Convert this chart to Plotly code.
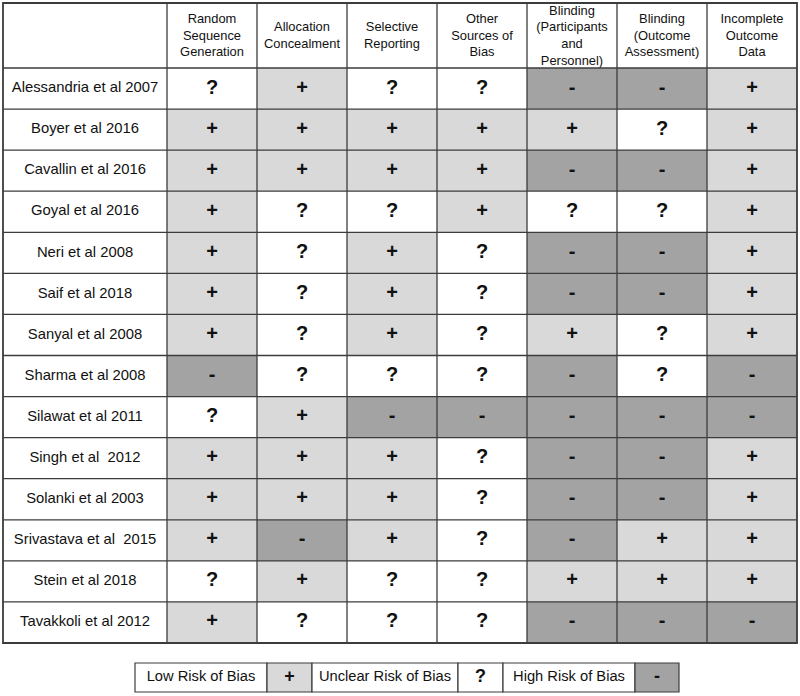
import plotly.graph_objects as go

studies = ["Alessandria et al 2007", "Boyer et al 2016", "Cavallin et al 2016", "Goyal et al 2016",
           "Neri et al 2008", "Saif et al 2018", "Sanyal et al 2008", "Sharma et al 2008",
           "Silawat et al 2011", "Singh et al\u00a0 2012", "Solanki et al 2003",
           "Srivastava et al\u00a0 2015", "Stein et al 2018", "Tavakkoli et al 2012"]
domains = ["Random<br>Sequence<br>Generation", "Allocation<br>Concealment", "Selective<br>Reporting",
           "Other<br>Sources of<br>Bias", "Blinding<br>(Participants<br>and<br>Personnel)",
           "Blinding<br>(Outcome<br>Assessment)", "Incomplete<br>Outcome<br>Data"]
ratings = [
    ["?", "+", "?", "?", "-", "-", "+"],
    ["+", "+", "+", "+", "+", "?", "+"],
    ["+", "+", "+", "+", "-", "-", "+"],
    ["+", "?", "?", "+", "?", "?", "+"],
    ["+", "?", "+", "?", "-", "-", "+"],
    ["+", "?", "+", "?", "-", "-", "+"],
    ["+", "?", "+", "?", "+", "?", "+"],
    ["-", "?", "?", "?", "-", "?", "-"],
    ["?", "+", "-", "-", "-", "-", "-"],
    ["+", "+", "+", "?", "-", "-", "+"],
    ["+", "+", "+", "?", "-", "-", "+"],
    ["+", "-", "+", "?", "-", "+", "+"],
    ["?", "+", "?", "?", "+", "+", "+"],
    ["+", "?", "?", "?", "-", "-", "-"],
]
legend_labels = ["Low Risk of Bias", "Unclear Risk of Bias", "High Risk of Bias"]
legend_symbols = ["+", "?", "-"]

# styling / layout
LOW, UNCLEAR, HIGH = "#d9d9d9", "#ffffff", "#a3a3a3"
LINE = "#3c3c3c"
FONT = "Liberation Sans, Arial, sans-serif"
code = {"+": 0, "?": 1, "-": 2}
colorscale = [[0, LOW], [0.333, LOW], [0.333, UNCLEAR], [0.667, UNCLEAR], [0.667, HIGH], [1, HIGH]]

left, label_right, right = 3.0, 167.0, 797.0
top, header_bottom, bottom = 3.0, 68.0, 643.0
ncol, nrow = len(domains), len(studies)
colw = (right - label_right) / ncol
rowh = (bottom - header_bottom) / nrow
xedges = [label_right + i * colw for i in range(ncol + 1)]
yedges = [header_bottom + j * rowh for j in range(nrow + 1)]
xc = [(xedges[i] + xedges[i + 1]) / 2 for i in range(ncol)]
yc = [(yedges[j] + yedges[j + 1]) / 2 for j in range(nrow)]

z = [[code[s] for s in row] for row in ratings]

fig = go.Figure()
fig.add_trace(go.Heatmap(z=z, x=xedges, y=yedges, zmin=0, zmax=2, colorscale=colorscale,
                         showscale=False, hoverinfo="skip"))

# symbols
sx, sy, st = [], [], []
for j, row in enumerate(ratings):
    for i, s in enumerate(row):
        sx.append(xc[i]); sy.append(yc[j]); st.append("<b>%s</b>" % s)
fig.add_trace(go.Scatter(x=sx, y=sy, text=st, mode="text", textposition="middle center",
                         textfont=dict(family=FONT, size=20, color="#111"), hoverinfo="skip"))
# row labels
fig.add_trace(go.Scatter(x=[(left + label_right) / 2] * nrow, y=yc, text=studies, mode="text",
                         textposition="middle center",
                         textfont=dict(family=FONT, size=14.8, color="#111"), hoverinfo="skip"))
# headers
fig.add_trace(go.Scatter(x=xc, y=[(top + header_bottom) / 2 + 1] * ncol, text=domains, mode="text",
                         textposition="middle center",
                         textfont=dict(family=FONT, size=12.9, color="#111"), hoverinfo="skip"))

shapes = []
for x in [label_right] + xedges[1:-1]:
    shapes.append(dict(type="line", x0=x, x1=x, y0=top, y1=bottom, line=dict(color=LINE, width=1.3)))
for y in yedges[:-1]:
    shapes.append(dict(type="line", x0=left, x1=right, y0=y, y1=y, line=dict(color=LINE, width=1.3)))
shapes.append(dict(type="rect", x0=left, x1=right, y0=top, y1=bottom, line=dict(color=LINE, width=1.8)))

# legend
lx = [135, 267, 312, 458, 503, 635, 679]
ly0, ly1 = 663, 692
sym_fill = [LOW, UNCLEAR, HIGH]
for k in range(3):
    shapes.append(dict(type="rect", x0=lx[2 * k], x1=lx[2 * k + 1], y0=ly0, y1=ly1, layer="below",
                       fillcolor="white", line=dict(color=LINE, width=1.2)))
    shapes.append(dict(type="rect", x0=lx[2 * k + 1], x1=lx[2 * k + 2], y0=ly0, y1=ly1, layer="below",
                       fillcolor=sym_fill[k], line=dict(color=LINE, width=1.2)))
fig.add_trace(go.Scatter(x=[(lx[2 * k] + lx[2 * k + 1]) / 2 for k in range(3)],
                         y=[(ly0 + ly1) / 2] * 3, text=legend_labels, mode="text",
                         textfont=dict(family=FONT, size=14.7, color="#111"), hoverinfo="skip"))
fig.add_trace(go.Scatter(x=[(lx[2 * k + 1] + lx[2 * k + 2]) / 2 for k in range(3)],
                         y=[(ly0 + ly1) / 2] * 3, text=["<b>%s</b>" % s for s in legend_symbols],
                         mode="text", textfont=dict(family=FONT, size=18, color="#111"),
                         hoverinfo="skip"))

fig.update_layout(width=800, height=696, margin=dict(l=0, r=0, t=0, b=0),
                  paper_bgcolor="white", plot_bgcolor="white", showlegend=False,
                  shapes=shapes,
                  xaxis=dict(range=[0, 800], visible=False, fixedrange=True),
                  yaxis=dict(range=[696, 0], visible=False, fixedrange=True))
fig.write_html("out.html", config={"displayModeBar": False},
               post_script="document.body.style.margin='0';document.body.style.overflow='hidden';")
